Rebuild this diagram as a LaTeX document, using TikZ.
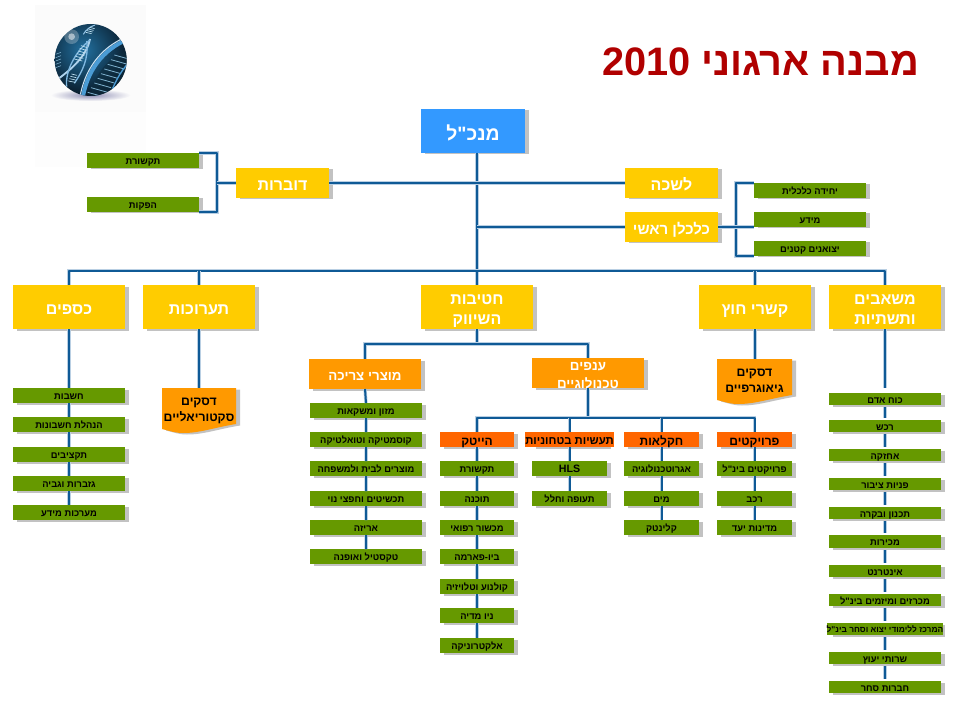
\documentclass[tikz,border=0pt]{standalone}
\usepackage{fontspec}
\usetikzlibrary{calc}
\TeXXeTstate=1
\newfontfamily\hebfont[Script=Hebrew]{Liberation Sans}
\newcommand\heb[1]{\raisebox{0pt}[.95em][0em]{\beginR #1\endR}}
\definecolor{linkc}{HTML}{0F5A96}
\definecolor{halo}{HTML}{B9CFE3}
\definecolor{shadc}{HTML}{C2C2C2}
\definecolor{yel}{HTML}{FFCC00}
\definecolor{bluebox}{HTML}{3399FF}
\definecolor{org}{HTML}{FF9900}
\definecolor{dorg}{HTML}{FF6600}
\definecolor{grn}{HTML}{669900}
\definecolor{titlec}{HTML}{B00000}
\definecolor{ballmid}{HTML}{22709F}
\definecolor{ballout}{HTML}{06121E}
\definecolor{ribbon}{HTML}{4A9BD4}
\definecolor{hatchc}{HTML}{BFE0F0}
\definecolor{lav}{HTML}{8E8EB4}
\tikzset{
  x=0.75pt,y=-0.75pt,
  base/.style={inner sep=0pt,outer sep=0pt,align=center},
  ceobox/.style={base,fill=bluebox,text=white,font=\hebfont\bfseries\fontsize{14.5}{18}\selectfont},
  yelbox/.style={base,fill=yel,text=white,font=\hebfont\bfseries\fontsize{12}{15}\selectfont},
  orgbox/.style={base,fill=org,text=white,font=\hebfont\bfseries\fontsize{10}{13.5}\selectfont},
  rowbox/.style={base,fill=dorg,text=black,font=\hebfont\bfseries\fontsize{9}{12}\selectfont},
  grnbox/.style={base,fill=grn,text=black,font=\hebfont\bfseries\fontsize{7}{9}\selectfont},
  doctext/.style={inner sep=0pt,outer sep=0pt,align=center,text=black,font=\hebfont\bfseries\fontsize{9.2}{12.2}\selectfont},
  plaintext/.style={inner sep=0pt,outer sep=0pt,align=center},
  link/.style={draw=linkc,line width=1.5pt,line join=round,
     preaction={draw=halo,line width=2.5pt}},
  gaplink/.style={link,shorten >=1.8pt,shorten <=1.8pt},
}
% name, style, x0, y0, x1, y1, text
\newcommand\orgnode[7]{%
  \fill[shadc] ({#3+4},{#4+1.5}) rectangle ({#5+4},{#6+1.5});%
  \pgfmathsetmacro\bw{(#5-#3)*0.75}%
  \pgfmathsetmacro\bh{(#6-#4)*0.75}%
  \node[#2,minimum width=\bw pt,minimum height=\bh pt] (#1) at ({(#3+#5)/2},{(#4+#6)/2}) {#7};%
}
\begin{document}
\begin{tikzpicture}
\useasboundingbox (0,0) rectangle (963,720);
\fill[white] (0,0) rectangle (963,720);
% logo backdrop
\fill[black!1.5] (35,5) rectangle (146,112);
\fill[black!0.8] (35,112) rectangle (146,167);
% logo shadow
\shade[inner color=lav,outer color=black!1.5] (90.5,95) ellipse (40 and 6);
% logo sphere, drawn in 3x crop coordinates
\begin{scope}[shift={(45,15)},x=0.25pt,y=-0.25pt]
\begin{scope}
\clip (137,135) circle (108);
\shade[inner color=ballmid,outer color=ballout] (115,105) circle (150);
% big helix
\fill[black!60!ballmid,opacity=.6] (135,250) .. controls (150,170) and (190,130) .. (250,105) -- (250,230) -- cycle;
\foreach \i in {0,...,8}{\draw[hatchc!60!ballmid,line width=.6pt] ({128+\i*10},{232-\i*14}) -- ({178+\i*10},{246-\i*14});}
\draw[ribbon,line width=3pt] (112,255) .. controls (125,170) and (170,105) .. (250,72);
\draw[white!70!ribbon,line width=.8pt] (104,250) .. controls (118,165) and (165,98) .. (245,65);
\draw[ribbon,line width=1pt] (190,255) .. controls (205,210) and (225,170) .. (250,145);
% small helix
\draw[white!55!ribbon,line width=1.4pt] (42,190) .. controls (75,165) and (125,125) .. (135,72);
\draw[white!30!ribbon,line width=1pt] (65,215) .. controls (60,170) and (90,110) .. (135,75);
\draw[white!30!ribbon,line width=1pt] (88,205) .. controls (112,170) and (132,130) .. (125,78);
\foreach \i in {0,...,5}{\draw[hatchc,line width=.5pt] ({88+\i*4},{132-\i*8}) -- ({112+\i*3},{138-\i*8});}
\foreach \i in {0,...,3}{\draw[hatchc,line width=.5pt] ({70+\i*3},{198-\i*7}) -- ({90+\i*2},{202-\i*7});}
\draw[white!40!ribbon,line width=.8pt] (115,58) .. controls (122,45) and (135,35) .. (150,30);
\foreach \i in {0,...,3}{\draw[hatchc,line width=.5pt] ({122+\i*4},{52-\i*5}) -- ({140+\i*3},{56-\i*5});}
\foreach \i in {0,...,4}{\draw[hatchc!60!ballmid,line width=.4pt] (32,{118+\i*10}) -- (48,{112+\i*10});}
\end{scope}
\fill[white,opacity=.25] (80,65) circle (22);
\fill[white,opacity=.5] (80,65) circle (10);
\end{scope}
% title
\node[inner sep=0pt,text=titlec,font=\hebfont\bfseries\fontsize{29.8}{36}\selectfont,anchor=east] (title) at (919.5,62) {\beginR מבנה ארגוני \beginL 2010\endL\endR};

% top
\orgnode{ceo}{ceobox}{421}{109}{525}{153}{\heb{מנכ"ל}}
\orgnode{dover}{yelbox}{236}{168}{329}{198}{\heb{דוברות}}
\orgnode{lishka}{yelbox}{625}{168}{718}{198}{\heb{לשכה}}
\orgnode{kalk}{yelbox}{625}{212}{718}{242}{\fontsize{11.3}{14}\selectfont\heb{כלכלן ראשי}}
\orgnode{tiksh}{grnbox}{87}{153}{199}{168}{\heb{תקשורת}}
\orgnode{hafak}{grnbox}{87}{197}{199}{212}{\heb{הפקות}}
\orgnode{yehid}{grnbox}{754}{183}{866}{198}{\heb{יחידה כלכלית}}
\orgnode{meida}{grnbox}{754}{212}{866}{227}{\heb{מידע}}
\orgnode{yetzu}{grnbox}{754}{241}{866}{256}{\heb{יצואנים קטנים}}
% second row
\orgnode{kesaf}{yelbox}{13}{285}{125}{329}{\heb{כספים}}
\orgnode{taruk}{yelbox}{143}{285}{255}{329}{\heb{תערוכות}}
\orgnode{hativ}{yelbox}{421}{285}{533}{329}{\heb{חטיבות}\\\heb{השיווק}}
\orgnode{kishr}{yelbox}{699}{285}{811}{329}{\heb{קשרי חוץ}}
\orgnode{mashb}{yelbox}{829}{285}{941}{329}{\heb{משאבים}\\\heb{ותשתיות}}
% finance
\orgnode{fa}{grnbox}{13}{388}{125}{403}{\heb{חשבות}}
\orgnode{fb}{grnbox}{13}{417}{125}{432}{\heb{הנהלת חשבונות}}
\orgnode{fc}{grnbox}{13}{447}{125}{462}{\heb{תקציבים}}
\orgnode{fd}{grnbox}{13}{476}{125}{491}{\heb{גזברות וגביה}}
\orgnode{fe}{grnbox}{13}{505}{125}{520}{\heb{מערכות מידע}}
% document shapes
\fill[shadc,shift={(4,1.5)}] (162,388) -- (236,388) -- (236,424) .. controls (212,428) and (200,433) .. (183,433) .. controls (175,433) and (170,431) .. (162,429) -- cycle;
\fill[org] (162,388) -- (236,388) -- (236,424) .. controls (212,428) and (200,433) .. (183,433) .. controls (175,433) and (170,431) .. (162,429) -- cycle;
\node[doctext,minimum width=55.5pt,minimum height=30pt] (dsekt) at (199,408) {\heb{דסקים}\\\heb{סקטוריאליים}};
\fill[shadc,shift={(4,1.5)}] (717,359) -- (792,359) -- (792,395) .. controls (768,399) and (755,404) .. (738,404) .. controls (730,404) and (725,402) .. (717,400) -- cycle;
\fill[org] (717,359) -- (792,359) -- (792,395) .. controls (768,399) and (755,404) .. (738,404) .. controls (730,404) and (725,402) .. (717,400) -- cycle;
\node[doctext,minimum width=56pt,minimum height=30pt] (dgeo) at (754.5,379) {\heb{דסקים}\\\heb{גיאוגרפיים}};
% marketing
\orgnode{mutz}{orgbox}{309}{359}{421}{389}{\heb{מוצרי צריכה}}
\orgnode{anaf}{orgbox}{532}{358}{644}{388}{}
\node[plaintext,text=white,font=\hebfont\bfseries\fontsize{10}{13.5}\selectfont] (anaflabel) at (588,373) {\heb{ענפים}\\\heb{טכנולוגיים}};
\orgnode{ca}{grnbox}{310}{403}{422}{418}{\heb{מזון ומשקאות}}
\orgnode{cb}{grnbox}{310}{432}{422}{447}{\heb{קוסמטיקה וטואלטיקה}}
\orgnode{cc}{grnbox}{310}{461}{422}{476}{\heb{מוצרים לבית ולמשפחה}}
\orgnode{cd}{grnbox}{310}{491}{422}{506}{\heb{תכשיטים וחפצי נוי}}
\orgnode{ce}{grnbox}{310}{520}{422}{535}{\heb{אריזה}}
\orgnode{cf}{grnbox}{310}{549}{422}{564}{\heb{טקסטיל ואופנה}}
% sectors
\orgnode{hitk}{rowbox}{440}{432}{514}{447}{\heb{הייטק}}
\orgnode{bith}{rowbox}{532}{432}{607}{447}{\fontsize{8.5}{11}\selectfont\heb{תעשיות בטחוניות}}
\orgnode{chak}{rowbox}{624}{432}{699}{447}{\heb{חקלאות}}
\orgnode{proj}{rowbox}{717}{432}{792}{447}{\heb{פרויקטים}}
\orgnode{ha}{grnbox}{440}{461}{514}{476}{\heb{תקשורת}}
\orgnode{hb}{grnbox}{440}{491}{514}{506}{\heb{תוכנה}}
\orgnode{hc}{grnbox}{440}{520}{514}{535}{\heb{מכשור רפואי}}
\orgnode{hd}{grnbox}{440}{549}{514}{564}{\heb{ביו-פארמה}}
\orgnode{he}{grnbox}{440}{579}{514}{594}{\heb{קולנוע וטלויזיה}}
\orgnode{hf}{grnbox}{440}{608}{514}{623}{\heb{ניו מדיה}}
\orgnode{hg}{grnbox}{440}{638}{514}{653}{\heb{אלקטרוניקה}}
\orgnode{ba}{grnbox}{532}{461}{607}{476}{\fontsize{8}{10}\selectfont HLS}
\orgnode{bb}{grnbox}{532}{491}{607}{506}{\heb{תעופה וחלל}}
\orgnode{ka}{grnbox}{624}{461}{699}{476}{\heb{אגרוטכנולוגיה}}
\orgnode{kb}{grnbox}{624}{491}{699}{506}{\heb{מים}}
\orgnode{kc}{grnbox}{624}{520}{699}{535}{\heb{קלינטק}}
\orgnode{pa}{grnbox}{717}{461}{792}{476}{\heb{פרויקטים בינ"ל}}
\orgnode{pb}{grnbox}{717}{491}{792}{506}{\heb{רכב}}
\orgnode{pc}{grnbox}{717}{520}{792}{535}{\heb{מדינות יעד}}
% resources
\orgnode{ma}{grnbox}{829}{393}{941}{405}{\heb{כוח אדם}}
\orgnode{mb}{grnbox}{829}{420}{941}{432}{\heb{רכש}}
\orgnode{mc}{grnbox}{829}{449}{941}{461}{\heb{אחזקה}}
\orgnode{md}{grnbox}{829}{478}{941}{490}{\heb{פניות ציבור}}
\orgnode{me}{grnbox}{829}{507}{941}{519}{\heb{תכנון ובקרה}}
\orgnode{mf}{grnbox}{829}{535}{941}{548}{\heb{מכירות}}
\orgnode{mg}{grnbox}{829}{565}{941}{577}{\heb{אינטרנט}}
\orgnode{mh}{grnbox}{829}{594}{941}{606}{\heb{מכרזים ומיזמים בינ"ל}}
\orgnode{mi}{grnbox}{829}{623}{941}{635}{\fontsize{6.3}{8}\selectfont\heb{המרכז ללימודי יצוא וסחר בינ"ל}}
\orgnode{mj}{grnbox}{829}{652}{941}{664}{\heb{שרותי יעוץ}}
\orgnode{mk}{grnbox}{829}{681}{941}{693}{\heb{חברות סחר}}

% connectors
\coordinate (bus) at (477,270.5);
\coordinate (lbr) at (217,183);
\coordinate (rbr) at (736,227);
\coordinate (mbr) at (477,344);
\coordinate (sbr) at (588,417.5);
\draw[link] (ceo.south -| hativ.north) -- (hativ.north);
\draw[link] (dover.east) -- (dover.east -| hativ.north);
\draw[link] (lishka.west) -- (lishka.west -| hativ.north);
\draw[link] (kalk.west) -- (kalk.west -| hativ.north);
\draw[link] (tiksh.north east) -| (lbr) |- (hafak.south east);
\draw[link] (dover.west) -- (lbr);
\draw[link] (yehid.north west) -| (rbr) |- (yetzu.south west);
\draw[link] (kalk.east) -- (meida.south west);
\draw[link] (kesaf.north) |- (bus) -| (mashb.north);
\draw[link] (taruk.north) -- (taruk.north |- bus);
\draw[link] (kishr.north) -- (kishr.north |- bus);
\draw[link] (kesaf.south) -- (fa.north) (fa.south) -- (fb.north) (fb.south) -- (fc.north) (fc.south) -- (fd.north) (fd.south) -- (fe.north);
\draw[link] (taruk.south) -- (taruk.south |- dsekt.north);
\draw[link] (kishr.south) -- (kishr.south |- dgeo.north);
\draw[link] (hativ.south) -- (mbr);
\draw[link] (mutz.north) |- (mbr) -| (anaf.north);
\draw[link] (anaf.south) -- (sbr);
\draw[link] (hitk.north) |- (sbr) -| (proj.north);
\draw[link] (bith.north) -- (bith.north |- sbr);
\draw[link] (chak.north) -- (chak.north |- sbr);
\draw[link] (mutz.south) -- (ca.north) (ca.south) -- (cb.north) (cb.south) -- (cc.north) (cc.south) -- (cd.north) (cd.south) -- (ce.north) (ce.south) -- (cf.north);
\draw[link] (hitk.south) -- (ha.north) (ha.south) -- (hb.north) (hb.south) -- (hc.north) (hc.south) -- (hd.north) (hd.south) -- (he.north) (he.south) -- (hf.north) (hf.south) -- (hg.north);
\draw[link] (bith.south) -- (ba.north) (ba.south) -- (bb.north);
\draw[link] (chak.south) -- (ka.north) (ka.south) -- (kb.north) (kb.south) -- (kc.north);
\draw[link] (proj.south) -- (pa.north) (pa.south) -- (pb.north) (pb.south) -- (pc.north);
\draw[gaplink,shorten <=0pt,shorten >=3.5pt] (mashb.south) -- (ma.north);
\foreach \a/\b in {ma/mb,mb/mc,mc/md,md/me,me/mf,mf/mg,mg/mh,mh/mi,mi/mj,mj/mk}{\draw[gaplink] (\a.south) -- (\b.north);}
\end{tikzpicture}
\end{document}
